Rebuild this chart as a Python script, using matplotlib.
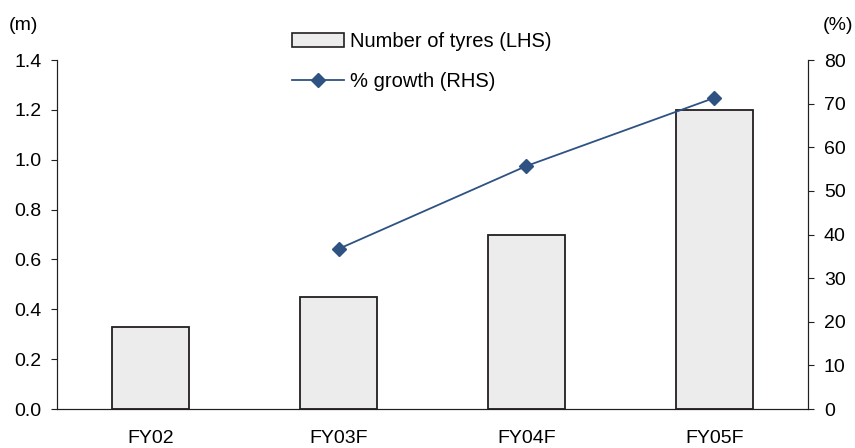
import numpy as np
import matplotlib
matplotlib.use('Agg')
import matplotlib.pyplot as plt
from matplotlib.lines import Line2D
from matplotlib.patches import Patch

# ---------------------------------- data ------------------------------------ #
years = ['FY02', 'FY03F', 'FY04F', 'FY05F']
tyres = [0.33, 0.45, 0.70, 1.20]          # m, left axis
growth = [np.nan, 36.7, 55.7, 71.3]       # %, right axis

bar_fill = '#ebeceb'
bar_edge = '#231f20'
line_col = '#2e5282'

plt.rcParams['font.family'] = ['Liberation Sans', 'DejaVu Sans']

# ----------------------------- figure & axes -------------------------------- #
fig = plt.figure(figsize=(8.55, 4.48), dpi=100)
ax = fig.add_axes([57 / 855, 1 - 409 / 448, (808 - 57) / 855, (409 - 60) / 448])
ax2 = ax.twinx()

x = np.arange(len(years))
ax.bar(x, tyres, width=0.41, color=bar_fill, edgecolor=bar_edge, linewidth=1.3,
       zorder=2)
ax2.plot(x, growth, color=line_col, lw=1.3, marker='D', ms=7, zorder=3)

ax.set_xlim(-0.5, 3.5)
ax.set_ylim(0, 1.4)
ax.set_yticks(np.arange(0, 1.41, 0.2))
ax.set_yticklabels(['%.1f' % v for v in np.arange(0, 1.41, 0.2)])
ax2.set_ylim(0, 80)
ax2.set_yticks(range(0, 81, 10))

ax.set_xticks(x)
ax.set_xticklabels(years)
ax.tick_params(axis='x', length=0, pad=15, labelsize=14)
ax.tick_params(axis='y', direction='out', length=4, width=0.8, pad=7,
               labelsize=14, color='#231f20')
ax2.tick_params(axis='y', direction='out', length=4.5, width=0.8, pad=7,
                labelsize=14, color='#231f20')

for a in (ax, ax2):
    a.spines['top'].set_visible(False)
    for s in ('left', 'right', 'bottom'):
        a.spines[s].set_linewidth(0.8)
        a.spines[s].set_color('#231f20')
ax.set_zorder(ax2.get_zorder() - 1)
ax2.patch.set_visible(False)
ax.patch.set_visible(False)

fig.text(9 / 855, 1 - 25 / 448, '(m)', fontsize=14, va='center', ha='left')
fig.text(853 / 855, 1 - 25 / 448, '(%)', fontsize=14, va='center', ha='right')

# --------------------------------- legend ----------------------------------- #
handles = [Patch(facecolor=bar_fill, edgecolor=bar_edge, linewidth=1.2),
           Line2D([0], [0], color=line_col, lw=1.3, marker='D', ms=7)]
fig.legend(handles, ['Number of tyres (LHS)', '% growth (RHS)'],
           loc='upper left', bbox_to_anchor=(274 / 855, 1 - 14 / 448),
           frameon=False, fontsize=14.5, handlelength=2.6, handleheight=0.65,
           handletextpad=0.25, labelspacing=1.05)

fig.savefig('out.png', dpi=100)
